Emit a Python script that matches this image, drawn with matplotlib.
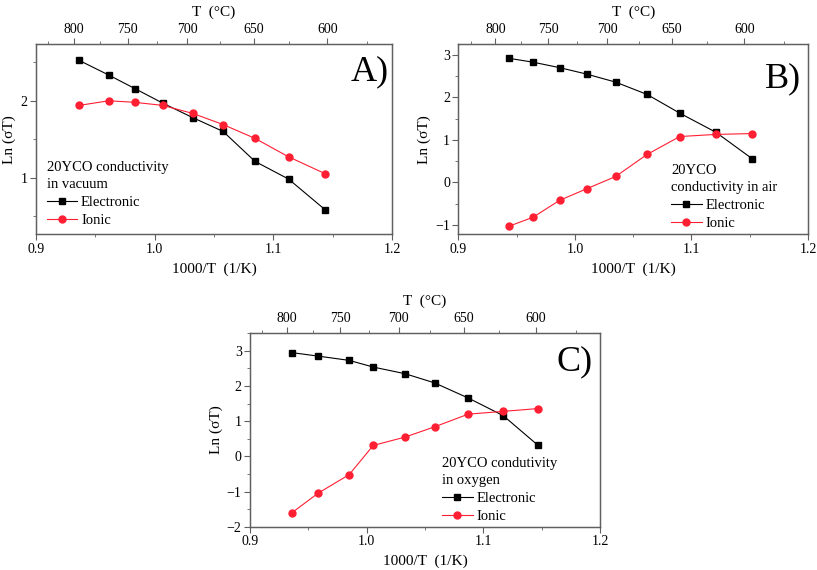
import matplotlib
matplotlib.use('Agg')
import matplotlib.pyplot as plt
from matplotlib.ticker import MultipleLocator

plt.rcParams['font.family'] = ['Liberation Serif', 'DejaVu Serif']

# --- data ---
x_vac = [0.9366, 0.9615, 0.9833, 1.0068, 1.0322, 1.0577, 1.0845, 1.1127, 1.1435]
el_vac = [2.526, 2.335, 2.16, 1.97, 1.78, 1.60, 1.21, 0.98, 0.58]
ion_vac = [1.94, 2.00, 1.98, 1.94, 1.835, 1.69, 1.51, 1.27, 1.05]

x_air = [0.9435, 0.964, 0.987, 1.010, 1.035, 1.062, 1.090, 1.121, 1.152]
el_air = [2.92, 2.83, 2.70, 2.55, 2.36, 2.07, 1.63, 1.18, 0.56]
ion_air = [-1.03, -0.82, -0.42, -0.15, 0.14, 0.66, 1.08, 1.13, 1.15]

x_oxy = [0.936, 0.9587, 0.985, 1.0056, 1.033, 1.0582, 1.087, 1.117, 1.147]
el_oxy = [2.95, 2.85, 2.73, 2.54, 2.35, 2.09, 1.66, 1.16, 0.31]
ion_oxy = [-1.60, -1.04, -0.52, 0.31, 0.55, 0.84, 1.20, 1.28, 1.36]

top_major_C = [800, 750, 700, 650, 600]
top_minor_C = [825, 775, 725, 675, 625, 575]

panels = [
    dict(rect=[35.7, 44, 392.3, 234.3], x=x_vac, el=el_vac, ion=ion_vac,
         ylim=(0.26, 2.74), title='20YCO conductivity\nin vacuum',
         leg=(0.031, 0.385), label='A)', lab=(0.99, 0.855)),
    dict(rect=[458.3, 44.3, 808, 234.3], x=x_air, el=el_air, ion=ion_air,
         ylim=(-1.22, 3.25), title='20YCO\nconductivity in air',
         leg=(0.608, 0.37), label='B)', lab=(0.98, 0.82)),
    dict(rect=[250, 333.3, 600, 526.7], x=x_oxy, el=el_oxy, ion=ion_oxy,
         ylim=(-2, 3.5), title='20YCO condutivity\nin oxygen',
         leg=(0.549, 0.36), label='C)', lab=(0.98, 0.85)),
]

W, H = 817, 570
fig = plt.figure(figsize=(W / 100, H / 100), dpi=100)

spine_col = '#606060'
red = '#ff1f33'
fs = 10.5

for p in panels:
    x0, y0, x1, y1 = p['rect']
    ax = fig.add_axes([x0 / W, 1 - y1 / H, (x1 - x0) / W, (y1 - y0) / H])
    ax.plot(p['x'], p['el'], '-s', color='black', lw=0.8, ms=4.5, label='Electronic')
    ax.plot(p['x'], p['ion'], '-o', color=red, mfc=red, mec=red, lw=0.8, ms=5,
            label='Ionic')
    ax.set_xlim(0.9, 1.2)
    ax.set_ylim(*p['ylim'])
    ax.xaxis.set_major_locator(MultipleLocator(0.1))
    ax.xaxis.set_minor_locator(MultipleLocator(0.05))
    ax.yaxis.set_major_locator(MultipleLocator(1))
    ax.yaxis.set_minor_locator(MultipleLocator(0.5))
    ax.xaxis.set_major_formatter(lambda v, pos: f'{v:.1f}')
    ax.tick_params(which='both', direction='out', right=False, top=False,
                   color=spine_col, labelsize=10, pad=2)
    ax.tick_params(which='major', length=4)
    ax.tick_params(which='minor', length=2.5)
    for s in ax.spines.values():
        s.set_color(spine_col)
        s.set_linewidth(1.0)
    ax.set_xlabel('1000/T  (1/K)', fontsize=fs + 0.5, labelpad=5)
    ax.set_ylabel('Ln (σT)', fontsize=fs + 0.5, labelpad=3)

    top = ax.twiny()
    top.set_xlim(0.9, 1.2)
    top.set_xticks([1000 / (t + 273.15) for t in top_major_C],
                   [str(t) for t in top_major_C])
    top.set_xticks([1000 / (t + 273.15) for t in top_minor_C], minor=True)
    top.tick_params(which='both', direction='out', color=spine_col,
                    labelsize=10, pad=2)
    top.tick_params(which='major', length=4)
    top.tick_params(which='minor', length=2.5)
    for s in top.spines.values():
        s.set_color(spine_col)
    top.set_xlabel('T  (°C)', fontsize=fs + 0.5, labelpad=5)

    leg = ax.legend(title=p['title'], loc='upper left', bbox_to_anchor=p['leg'],
                    frameon=False, fontsize=fs, title_fontsize=fs,
                    alignment='left', numpoints=1, handlelength=2.1,
                    handletextpad=0.25, borderpad=0, borderaxespad=0,
                    labelspacing=0.3)
    leg.get_title().set_linespacing(1.35)
    leg._legend_box.sep = 4

    ax.text(p['lab'][0], p['lab'][1], p['label'], transform=ax.transAxes,
            ha='right', va='center', fontsize=26)

fig.savefig('out.png', dpi=100)
